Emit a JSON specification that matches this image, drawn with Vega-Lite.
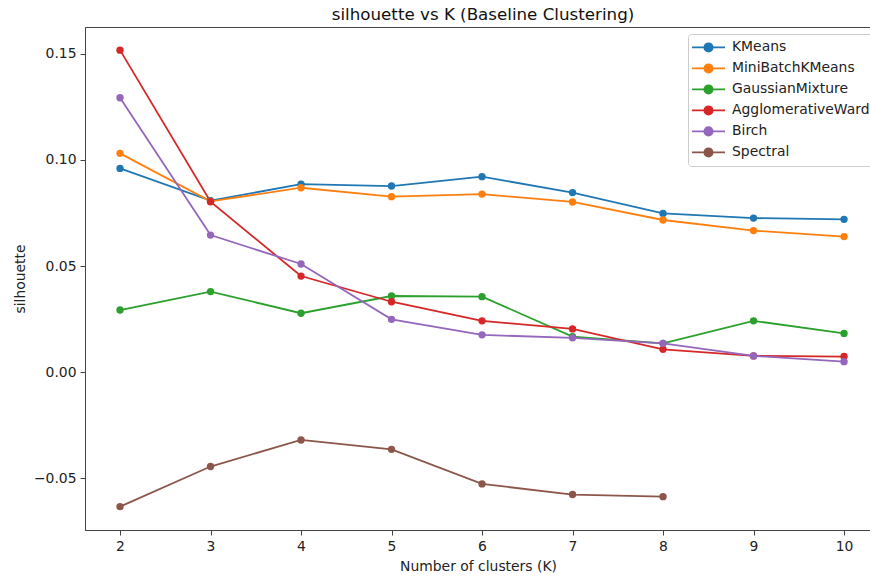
{
  "$schema": "https://vega.github.io/schema/vega-lite/v6.json",
  "autosize": {"type": "none"},
  "padding": {"left": 85, "top": 27, "right": -1, "bottom": 46},
  "width": 786,
  "height": 503,
  "background": "white",
  "title": {"text": "silhouette vs K (Baseline Clustering)", "font": "DejaVu Sans", "fontSize": 16.7, "fontWeight": "normal", "color": "#111", "offset": 3, "dx": 5},
  "data": {"values": [
    {"K": 2, "model": "KMeans", "silhouette": 0.0960},
    {"K": 3, "model": "KMeans", "silhouette": 0.0808},
    {"K": 4, "model": "KMeans", "silhouette": 0.0886},
    {"K": 5, "model": "KMeans", "silhouette": 0.0877},
    {"K": 6, "model": "KMeans", "silhouette": 0.0921},
    {"K": 7, "model": "KMeans", "silhouette": 0.0846},
    {"K": 8, "model": "KMeans", "silhouette": 0.0748},
    {"K": 9, "model": "KMeans", "silhouette": 0.0726},
    {"K": 10, "model": "KMeans", "silhouette": 0.0720},
    {"K": 2, "model": "MiniBatchKMeans", "silhouette": 0.1031},
    {"K": 3, "model": "MiniBatchKMeans", "silhouette": 0.0805},
    {"K": 4, "model": "MiniBatchKMeans", "silhouette": 0.0869},
    {"K": 5, "model": "MiniBatchKMeans", "silhouette": 0.0827},
    {"K": 6, "model": "MiniBatchKMeans", "silhouette": 0.0839},
    {"K": 7, "model": "MiniBatchKMeans", "silhouette": 0.0802},
    {"K": 8, "model": "MiniBatchKMeans", "silhouette": 0.0717},
    {"K": 9, "model": "MiniBatchKMeans", "silhouette": 0.0667},
    {"K": 10, "model": "MiniBatchKMeans", "silhouette": 0.0639},
    {"K": 2, "model": "GaussianMixture", "silhouette": 0.0293},
    {"K": 3, "model": "GaussianMixture", "silhouette": 0.0380},
    {"K": 4, "model": "GaussianMixture", "silhouette": 0.0278},
    {"K": 5, "model": "GaussianMixture", "silhouette": 0.0359},
    {"K": 6, "model": "GaussianMixture", "silhouette": 0.0356},
    {"K": 7, "model": "GaussianMixture", "silhouette": 0.0168},
    {"K": 8, "model": "GaussianMixture", "silhouette": 0.0136},
    {"K": 9, "model": "GaussianMixture", "silhouette": 0.0242},
    {"K": 10, "model": "GaussianMixture", "silhouette": 0.0183},
    {"K": 2, "model": "AgglomerativeWard", "silhouette": 0.1517},
    {"K": 3, "model": "AgglomerativeWard", "silhouette": 0.0803},
    {"K": 4, "model": "AgglomerativeWard", "silhouette": 0.0453},
    {"K": 5, "model": "AgglomerativeWard", "silhouette": 0.0332},
    {"K": 6, "model": "AgglomerativeWard", "silhouette": 0.0242},
    {"K": 7, "model": "AgglomerativeWard", "silhouette": 0.0204},
    {"K": 8, "model": "AgglomerativeWard", "silhouette": 0.0108},
    {"K": 9, "model": "AgglomerativeWard", "silhouette": 0.0077},
    {"K": 10, "model": "AgglomerativeWard", "silhouette": 0.0074},
    {"K": 2, "model": "Birch", "silhouette": 0.1293},
    {"K": 3, "model": "Birch", "silhouette": 0.0646},
    {"K": 4, "model": "Birch", "silhouette": 0.0510},
    {"K": 5, "model": "Birch", "silhouette": 0.0249},
    {"K": 6, "model": "Birch", "silhouette": 0.0176},
    {"K": 7, "model": "Birch", "silhouette": 0.0162},
    {"K": 8, "model": "Birch", "silhouette": 0.0136},
    {"K": 9, "model": "Birch", "silhouette": 0.0077},
    {"K": 10, "model": "Birch", "silhouette": 0.0050},
    {"K": 2, "model": "Spectral", "silhouette": -0.0633},
    {"K": 3, "model": "Spectral", "silhouette": -0.0444},
    {"K": 4, "model": "Spectral", "silhouette": -0.0319},
    {"K": 5, "model": "Spectral", "silhouette": -0.0363},
    {"K": 6, "model": "Spectral", "silhouette": -0.0526},
    {"K": 7, "model": "Spectral", "silhouette": -0.0576},
    {"K": 8, "model": "Spectral", "silhouette": -0.0586}
  ]},
  "encoding": {
    "x": {"field": "K", "type": "quantitative",
      "scale": {"domain": [1.613, 10.298], "nice": false, "zero": false},
      "axis": {"values": [2, 3, 4, 5, 6, 7, 8, 9, 10], "format": "d", "title": "Number of clusters (K)", "labelPadding": 4, "titlePadding": 7}},
    "y": {"field": "silhouette", "type": "quantitative",
      "scale": {"domain": [-0.0743, 0.1626], "nice": false, "zero": false},
      "axis": {"values": [-0.05, 0, 0.05, 0.1, 0.15], "labelExpr": "replace(format(datum.value, '.2f'), '-', '\u2212')", "title": "silhouette", "labelPadding": 4, "titlePadding": 6}},
    "color": {"field": "model", "type": "nominal",
      "scale": {"domain": ["KMeans", "MiniBatchKMeans", "GaussianMixture", "AgglomerativeWard", "Birch", "Spectral"],
                "range": ["#1f77b4", "#ff7f0e", "#2ca02c", "#d62728", "#9467bd", "#8c564b"]},
      "legend": {"orient": "none", "legendX": 603, "legendY": 7, "title": null,
        "symbolType": "M-1,0L1,0M0.25,0A0.25,0.25,0,1,1,-0.25,0A0.25,0.25,0,1,1,0.25,0Z",
        "symbolSize": 1089, "symbolStrokeWidth": 1.8, "clipHeight": 20.8, "rowPadding": 0, "padding": 3,
        "labelFontSize": 13.9, "labelFont": "DejaVu Sans", "labelColor": "#222", "labelOffset": 6,
        "fillColor": "rgba(255,255,255,0.8)", "strokeColor": "#cccccc", "cornerRadius": 3,
        "encode": {"symbols": {"update": {"fill": {"scale": "color", "field": "value"}, "stroke": {"scale": "color", "field": "value"}, "opacity": {"value": 1}}}}}
    }
  },
  "layer": [
    {"mark": {"type": "line", "strokeWidth": 1.8}},
    {"mark": {"type": "point", "filled": true, "size": 54, "opacity": 1, "shape": "circle"}}
  ],
  "config": {
    "view": {"stroke": "#444", "strokeWidth": 1},
    "axis": {"grid": false, "domainColor": "#444", "tickColor": "#444", "tickSize": 5, "labelFont": "DejaVu Sans", "labelFontSize": 13.9, "labelColor": "#222", "titleFont": "DejaVu Sans", "titleFontSize": 13.9, "titleFontWeight": "normal", "titleColor": "#222"}
  }
}
